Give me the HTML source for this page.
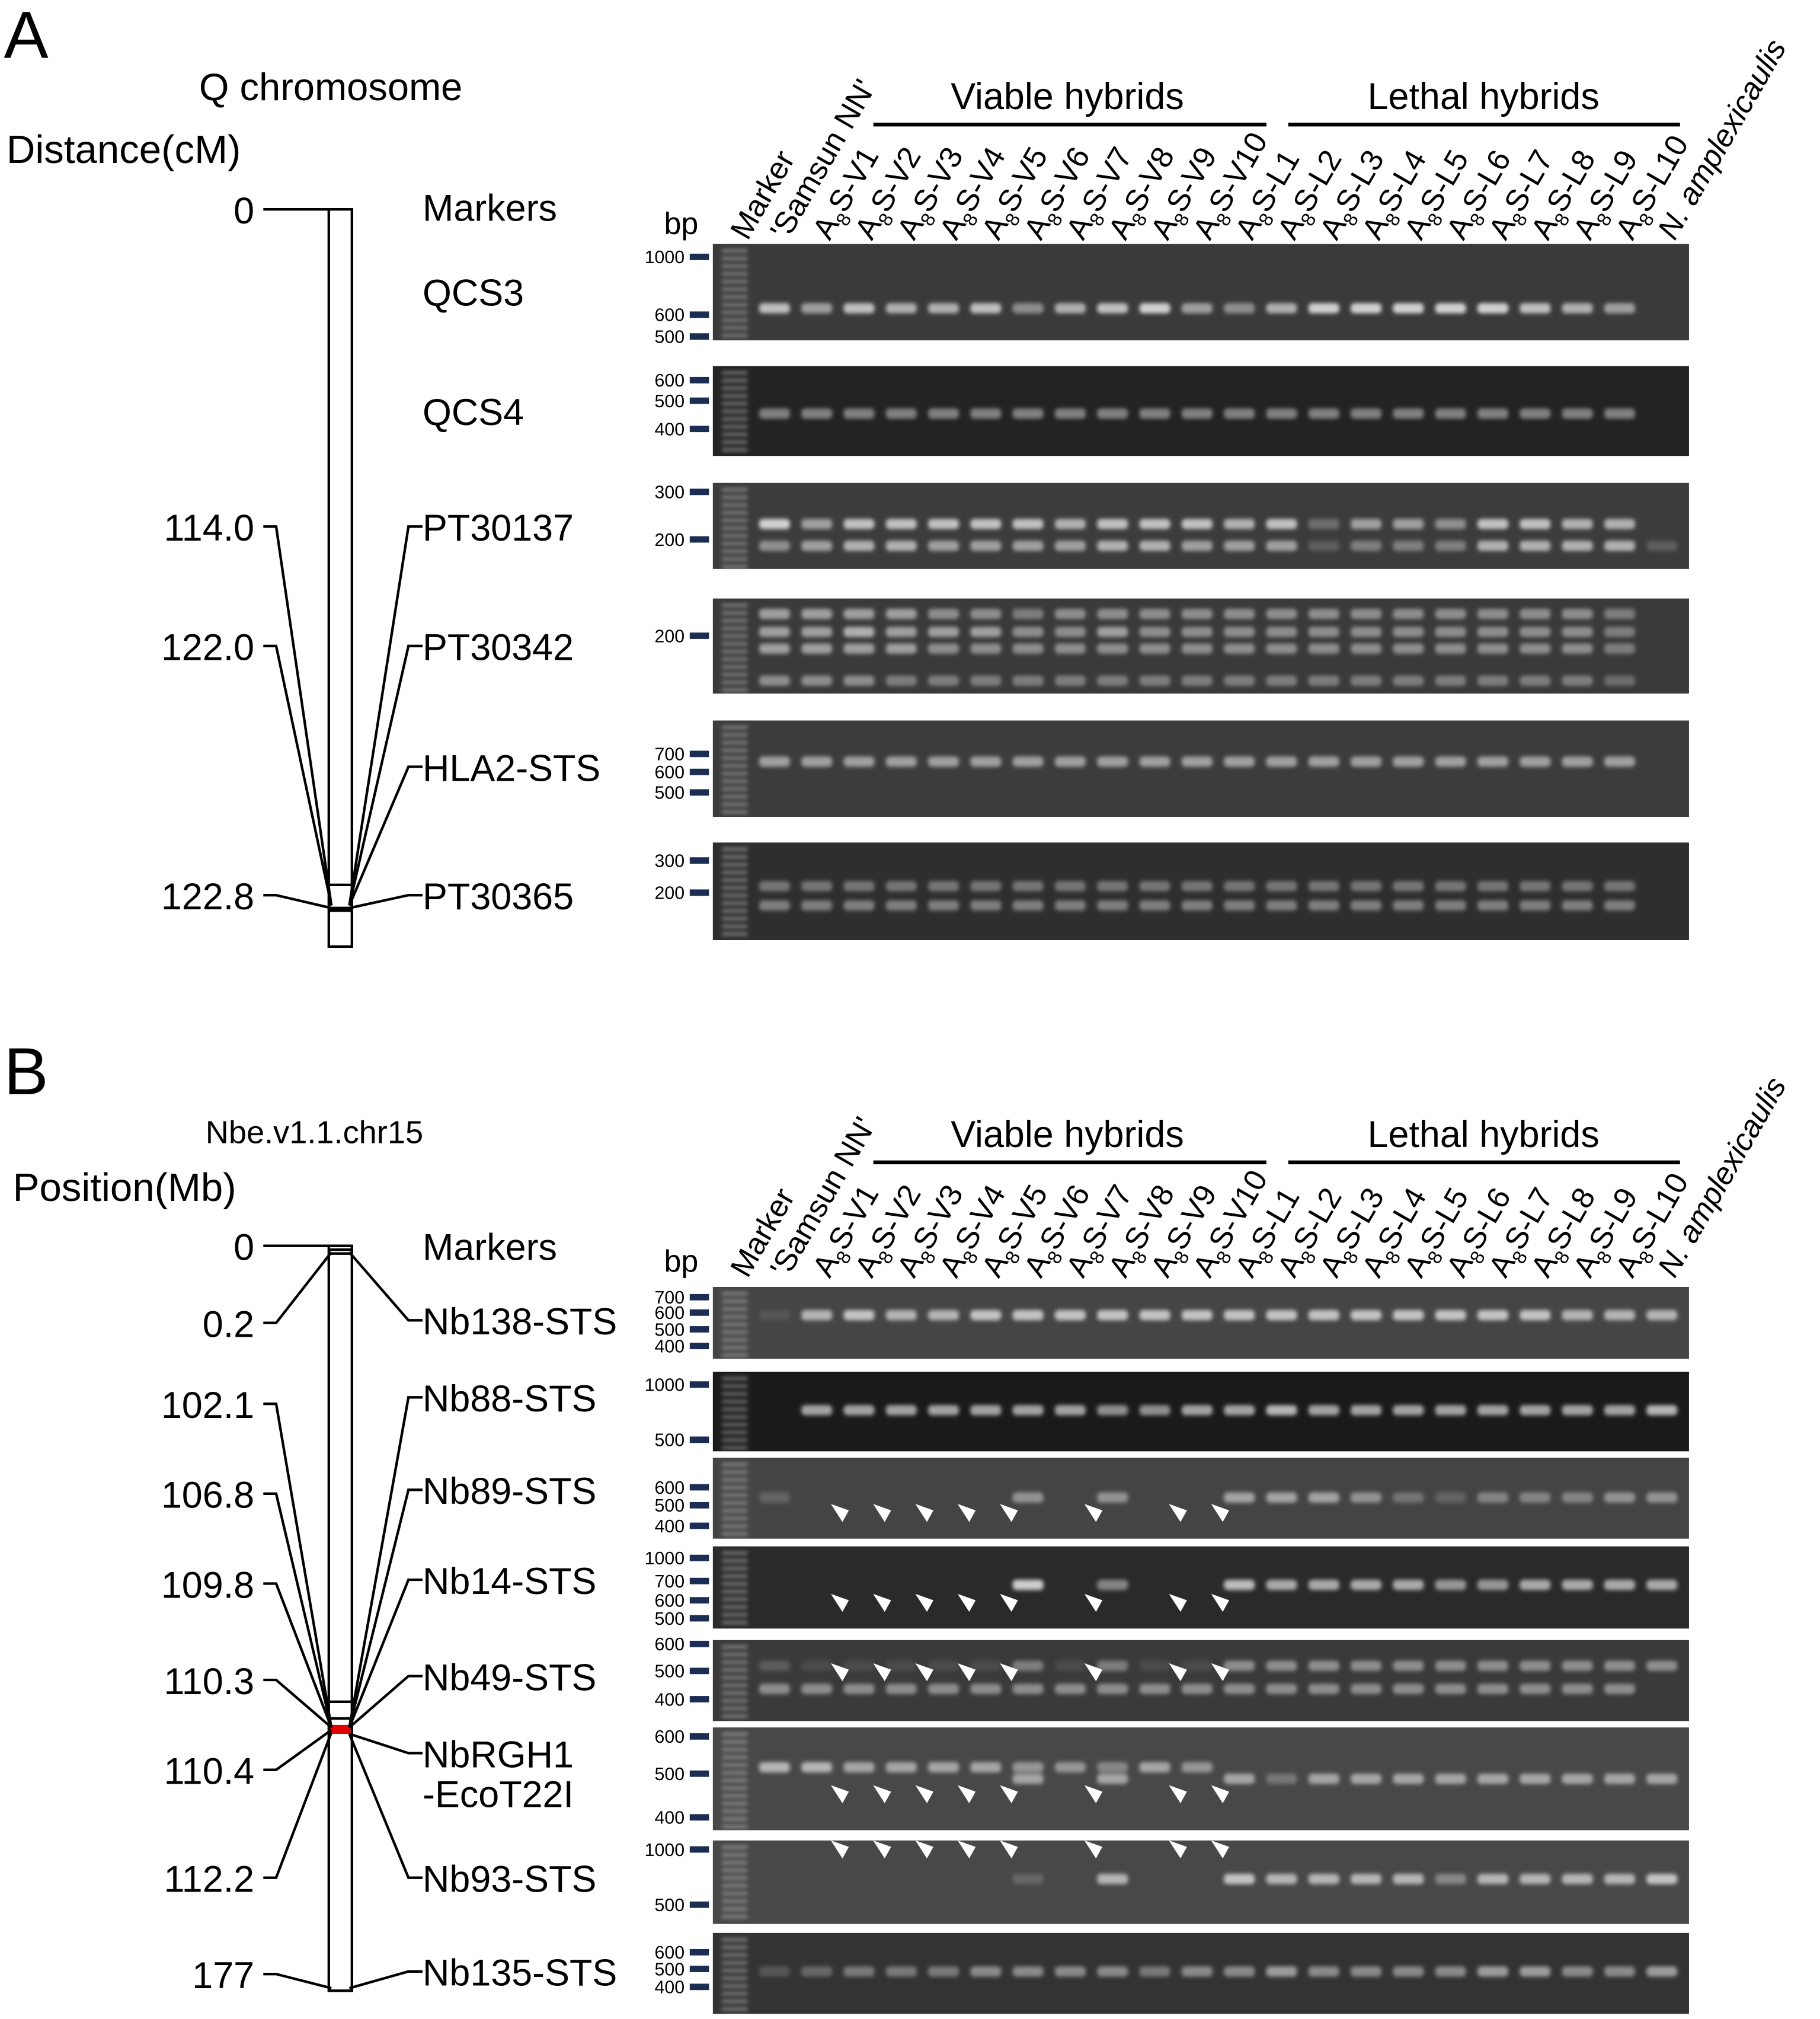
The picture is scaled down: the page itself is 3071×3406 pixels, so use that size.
<!DOCTYPE html>
<html><head><meta charset="utf-8"><style>
html,body{margin:0;padding:0;background:#fff}
svg{display:block}
text{font-family:"Liberation Sans",sans-serif;fill:#000}
</style></head><body>
<svg id="fig" width="3071" height="3406" viewBox="0 0 1417 1572" preserveAspectRatio="none" xmlns="http://www.w3.org/2000/svg">
<defs><filter id="blur" x="-20%" y="-50%" width="140%" height="200%"><feGaussianBlur stdDeviation="1.6"/></filter></defs>
<g id="root"></g>
</svg>
<script>
// ---- data ----
const laneNames = ["'Samsun NN'","V1","V2","V3","V4","V5","V6","V7","V8","V9","V10","L1","L2","L3","L4","L5","L6","L7","L8","L9","L10","N. amplexicaulis"];
const panelALeftLabels = ["0","114.0","122.0","122.8"];
const panelALeftY = [163,410,503,697];
const panelAMarkers = ["QCS3","QCS4","PT30137","PT30342","HLA2-STS","PT30365"];
const panelBLeftLabels = ["0","0.2","102.1","106.8","109.8","110.3","110.4","112.2","177"];
const panelBLeftY = [970,1030,1093,1163,1233,1308,1378,1462,1537];
const panelBMarkers = ["Nb138-STS","Nb88-STS","Nb89-STS","Nb14-STS","Nb49-STS","NbRGH1","Nb93-STS","Nb135-STS"];
const ALL = [1,1,1,1,1,1,1,1,1,1,1,1,1,1,1,1,1,1,1,1,1,0];
const gelRows = [
 {y:190,h:75,bg:"#3a3a3a",bp:[["1000",200],["600",245],["500",262]],bands:[[240,[.8,.6,.8,.7,.7,.8,.5,.7,.8,.9,.6,.5,.7,.9,.9,.9,.9,.9,.8,.7,.6,0]]]},
 {y:285,h:70,bg:"#232323",bp:[["600",296],["500",312],["400",334]],bands:[[322,[.5,.5,.5,.5,.5,.5,.5,.5,.5,.5,.5,.5,.5,.5,.5,.5,.5,.5,.5,.5,.5,0]]]},
 {y:376,h:67,bg:"#3c3c3c",bp:[["300",383],["200",420]],bands:[[408,[.9,.6,.8,.8,.8,.8,.8,.7,.8,.8,.8,.7,.8,.3,.6,.6,.5,.8,.8,.7,.7,0]],[425,[.5,.6,.7,.7,.6,.6,.6,.6,.7,.7,.6,.6,.6,.2,.4,.4,.4,.7,.7,.7,.7,.2]]]},
 {y:466,h:74,bg:"#3a3a3a",bp:[["200",495]],bands:[[478,[.6,.6,.6,.6,.5,.5,.4,.5,.5,.5,.5,.5,.5,.5,.5,.5,.5,.5,.5,.5,.4,0]],[492,[.6,.6,.7,.6,.6,.6,.5,.5,.6,.5,.5,.5,.5,.5,.5,.5,.5,.5,.5,.5,.4,0]],[505,[.6,.6,.6,.6,.5,.5,.5,.5,.5,.5,.5,.5,.5,.5,.5,.5,.5,.5,.5,.5,.4,0]],[530,[.5,.5,.5,.4,.4,.4,.4,.4,.4,.4,.4,.4,.4,.4,.4,.4,.4,.4,.4,.4,.3,0]]]},
 {y:561,h:75,bg:"#3c3c3c",bp:[["700",587],["600",601],["500",617]],bands:[[593,ALL.map(v=>v*.6)]]},
 {y:656,h:76,bg:"#2e2e2e",bp:[["300",670],["200",695]],bands:[[690,ALL.map(v=>v*.4)],[705,ALL.map(v=>v*.45)]]},
 {y:1002,h:56,bg:"#454545",bp:[["700",1010],["600",1022],["500",1035],["400",1048]],bands:[[1024,[.1,.7,.8,.7,.7,.8,.8,.8,.8,.8,.8,.8,.8,.8,.8,.8,.8,.8,.8,.7,.7,.7]]]},
 {y:1068,h:62,bg:"#1a1a1a",bp:[["1000",1078],["500",1121]],bands:[[1098,[0,.7,.7,.7,.7,.7,.7,.7,.6,.6,.7,.7,.8,.7,.7,.7,.7,.7,.7,.7,.7,.8]]]},
 {y:1135,h:63,bg:"#444444",bp:[["600",1158],["500",1172],["400",1188]],bands:[[1166,[.2,0,0,0,0,0,.5,0,.5,0,0,.6,.6,.6,.5,.3,.2,.4,.4,.4,.5,.5]]]},
 {y:1204,h:64,bg:"#2a2a2a",bp:[["1000",1213],["700",1231],["600",1246],["500",1260]],bands:[[1234,[0,0,0,0,0,0,.9,0,.5,0,0,.8,.7,.7,.7,.7,.6,.6,.7,.7,.7,.7]]]},
 {y:1277,h:63,bg:"#3a3a3a",bp:[["600",1280],["500",1301],["400",1323]],bands:[[1297,[.2,.1,.1,.1,.1,.1,.4,.1,.4,.1,.1,.5,.5,.5,.5,.5,.5,.5,.5,.5,.5,.5]],[1315,ALL.map(v=>v*.5)]]},
 {y:1345,h:80,bg:"#484848",bp:[["600",1352],["500",1381],["400",1415]],bands:[[1376,[.7,.7,.6,.6,.6,.6,.5,.5,.4,.6,.5,0,0,0,0,0,0,0,0,0,0,0]],[1385,[0,0,0,0,0,0,.6,0,.6,0,0,.6,.3,.6,.6,.6,.6,.6,.6,.6,.6,.6]]]},
 {y:1433,h:65,bg:"#484848",bp:[["1000",1440],["500",1483]],bands:[[1463,[0,0,0,0,0,0,.2,0,.7,0,0,.8,.7,.7,.7,.7,.4,.7,.7,.7,.7,.8]]]},
 {y:1505,h:63,bg:"#333333",bp:[["600",1520],["500",1533],["400",1547]],bands:[[1535,[.2,.3,.4,.4,.4,.5,.5,.5,.5,.4,.5,.5,.6,.5,.5,.5,.5,.6,.6,.5,.5,.6]]]}
];
const arrowLanes = [1,2,3,4,5,7,9,10];
const arrowRowY = [1178,1248,1302,1397,1440];

// ---- drawing ----
const NS="http://www.w3.org/2000/svg";
const root=document.getElementById('root');
function el(tag,attrs,parent){const e=document.createElementNS(NS,tag);for(const k in attrs)e.setAttribute(k,attrs[k]);(parent||root).appendChild(e);return e;}
function txt(s,x,y,size,attrs){const t=el('text',Object.assign({x:x,y:y,'font-size':size},attrs||{}));t.textContent=s;return t;}
const laneX=i=>603+i*32.9;
const GX0=555,GX1=1315;

function drawChrom(top,bot,inner,red){
  const r=el('rect',{x:256,y:top,width:18,height:bot-top,fill:'#fff',stroke:'#000','stroke-width':2});
  
  
  inner.forEach(y=>el('line',{x1:256,x2:274,y1:y,y2:y,stroke:'#000','stroke-width':2}));
  if(red){const rr=el('rect',{x:257,y:red,width:16,height:7,fill:'#e00000'});
    
    }
}
function drawConn(labels,ys,targets,markers,mys,mtargets){
  labels.forEach((s,i)=>{
    const t=txt(s,198,ys[i]+11,29,{'text-anchor':'end'});
    
    
    el('polyline',{points:`205,${ys[i]} 215,${ys[i]} 258,${targets[i]}`,fill:'none',stroke:'#000','stroke-width':2});
  });
  markers.forEach((s,i)=>{
    const t=txt(s,329,mys[i]+11,29);
    
    
    if(mtargets[i]!=null) el('polyline',{points:`329,${mys[i]} 318,${mys[i]} 272,${mtargets[i]}`,fill:'none',stroke:'#000','stroke-width':2});
  });
}
function drawLaneLabels(yb,baseY){
  let t=txt('Marker',0,0,24,{transform:`translate(${582},${baseY}) rotate(-60)`});
  
  
  laneNames.forEach((n,i)=>{
    const x=laneX(i)+10;
    const g=el('text',{x:0,y:0,'font-size':24,transform:`translate(${x},${baseY}) rotate(-60)`});
    
    
    if(i===0){g.textContent=n;}
    else if(i===21){g.setAttribute('font-style','italic');g.textContent=n;}
    else{const a=document.createElementNS(NS,'tspan');a.textContent='A';g.appendChild(a);
      const b=document.createElementNS(NS,'tspan');b.setAttribute('font-size','15');b.setAttribute('dy','6');b.textContent='8';g.appendChild(b);
      const c=document.createElementNS(NS,'tspan');c.setAttribute('dy','-6');c.textContent='S-'+n;g.appendChild(c);}
  });
  const bp=txt('bp',517,baseY-6,24);
  
  
  const v=txt('Viable hybrids',831,yb-12,29,{'text-anchor':'middle'});
  
  
  el('line',{x1:680,x2:986,y1:yb,y2:yb,stroke:'#000','stroke-width':3});
  const l=txt('Lethal hybrids',1155,yb-12,29,{'text-anchor':'middle'});
  
  
  el('line',{x1:1003,x2:1308,y1:yb,y2:yb,stroke:'#000','stroke-width':3});
}
function drawGel(r){
  const g=el('g',{});
  
  
  el('rect',{x:GX0,y:r.y,width:GX1-GX0,height:r.h,fill:r.bg},g);
  const bl=el('g',{filter:'url(#blur)'},g);
  for(let k=0;k<Math.floor(r.h/6);k++) el('rect',{x:562,y:r.y+4+k*6,width:20,height:2.5,fill:'#ccc',opacity:.5},bl);
  r.bands.forEach(b=>{
    b[1].forEach((v,i)=>{ if(v>0) el('rect',{x:laneX(i)-12,y:b[0]-4,width:24,height:8,rx:3,fill:'#fff',opacity:v*0.85},bl); });
  });
  r.bp.forEach(p=>{
    const t=txt(p[0],533,p[1]+5,14,{'text-anchor':'end'});
    
    
    el('rect',{x:537,y:p[1]-2.5,width:15,height:5,fill:'#1b2d52'});
  });
}

// Panel A
let t=txt('A',3,45,52);
t=txt('Q chromosome',155,78,30);
t=txt('Distance(cM)',5,127,31);
drawChrom(163,737,[689,707,709]);
el('line',{x1:205,x2:258,y1:163,y2:163,stroke:'#000','stroke-width':2});
drawConn(panelALeftLabels.slice(1),panelALeftY.slice(1),[705,705,707],[],[],[]);
t=txt('0',198,174,29,{'text-anchor':'end'});
t=txt('Markers',329,172,29);
drawConn([],[],[],panelAMarkers,[227,320,410,503,597,697],[null,null,705,705,705,707]);
drawLaneLabels(97,188);
gelRows.slice(0,6).forEach(drawGel);

// Panel B
t=txt('B',3,852,52);
t=txt('Nbe.v1.1.chr15',160,890,25);
t=txt('Position(Mb)',10,935,31);
drawChrom(970,1550,[973,976,1325,1338],1343);
el('line',{x1:205,x2:270,y1:970,y2:970,stroke:'#000','stroke-width':2});
drawConn(panelBLeftLabels.slice(1),panelBLeftY.slice(1),[975,1345,1345,1345,1345,1347,1349,1548],[],[],[]);
t=txt('0',198,981,29,{'text-anchor':'end'});
t=txt('Markers',329,981,29);
drawConn([],[],[],panelBMarkers,[1028,1088,1160,1230,1305,1365,1462,1535],[975,1345,1345,1345,1345,1350,1350,1548]);
t=txt('-EcoT22I',329,1407,29);
drawLaneLabels(905,996);
gelRows.slice(6).forEach(drawGel);
arrowRowY.forEach(y=>arrowLanes.forEach(i=>{
  const x=laneX(i)+18;
  const a=el('polygon',{points:`${x-7},${y-7} ${x+7},${y-2} ${x+2},${y+7}`,fill:'#fff'});
  
  
}));
</script>
</body></html>
